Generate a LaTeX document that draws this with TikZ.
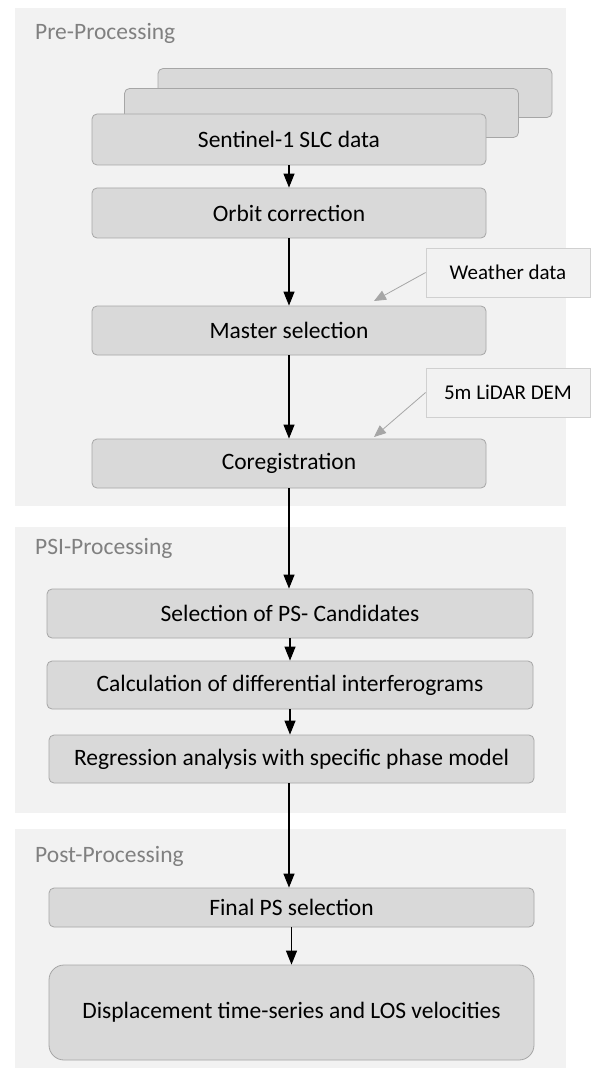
\documentclass[tikz,border=0pt]{standalone}
\usepackage{fontspec}
\setmainfont{Carlito}
\usetikzlibrary{positioning,arrows.meta,calc}
\definecolor{panelgray}{HTML}{F2F2F2}
\definecolor{boxgray}{HTML}{D9D9D9}
\definecolor{boxline}{HTML}{A6A6A6}
\definecolor{noteline}{HTML}{D0D0D0}
\definecolor{titlegray}{HTML}{808080}
\definecolor{arrowgray}{HTML}{A6A6A6}

\begin{document}
\begin{tikzpicture}[
  x=1pt, y=-1pt,
  every node/.style={font=\fontsize{23.5}{27}\selectfont},
  panel/.style={fill=panelgray, inner sep=0pt},
  title/.style={anchor=west, text=titlegray, inner sep=0pt},
  block/.style={draw=boxline, fill=boxgray, rounded corners=5pt, line width=0.8pt, inner sep=0pt, minimum width=394, minimum height=49},
  wblock/.style={block, minimum width=486},
  note/.style={draw=noteline, fill=panelgray, line width=0.8pt, inner sep=0pt, minimum width=164, minimum height=49, font=\fontsize{21}{25}\selectfont},
  flow/.style={-{Triangle[length=14pt,width=11pt]}, line width=1.2pt},
  hint/.style={-{Triangle[length=12pt,width=10pt]}, draw=arrowgray, line width=0.8pt}
]
\useasboundingbox (0,0) rectangle (590,1075);
% Stage panels
\node[panel, minimum width=551, minimum height=498] (pre) at (290.5,257) {};
\node[panel, minimum width=551, minimum height=286] (psi) at (290.5,670) {};
\node[panel, minimum width=551, minimum height=239] (post) at (290.5,948.5) {};
\node[title] (pretitle) at (35,33) {Pre-Processing};
\node[title] (psititle) at (35,548) {PSI-Processing};
\node[title] (posttitle) at (35,856) {Post-Processing};
% Pre-processing
\node[block] (stack2) at (355,93) {};
\node[block] (stack1) at (321.5,113) {};
\node[block, minimum height=51] (slc) at (289,139.5) {Sentinel-1 SLC data};
\node[block, minimum height=50] (orbit) at (289,213) {Orbit correction};
\node[block] (master) at (289,330.5) {Master selection};
\node[block] (coreg) at (289,463.5) {Coregistration};
\node[note] (weather) at (508,272.5) {Weather data};
\node[note] (dem) at (508,392.5) {5m LiDAR DEM};
\coordinate (wtip) at (374,301);
\coordinate (dtip) at (374,437);
\draw[flow] (slc) -- (orbit);
\draw[flow] (orbit) -- (master);
\draw[flow] (master) -- (coreg);
\draw[hint] (weather.west) -- (wtip);
\draw[hint] (dem.west) -- (dtip);
% PSI-processing
\node[wblock] (cand) at (290,613.5) {Selection of PS- Candidates};
\node[wblock, minimum height=48] (ifg) at (290,685) {Calculation of differential interferograms};
\node[wblock, minimum width=485, minimum height=48] (regr) at (291.5,759) {Regression analysis with specific phase model};
\draw[flow] (coreg) -- (coreg.south |- cand.north);
\draw[flow] (cand) -- (ifg);
\draw[flow] (ifg.south) -- (ifg.south |- regr.north);
% Post-processing
\node[wblock, minimum width=485, minimum height=39] (final) at (291.5,907.5) {Final PS selection};
\node[wblock, minimum width=485, minimum height=95, rounded corners=15pt] (disp) at (291.5,1012.5) {Displacement time-series and LOS velocities};
\draw[flow] (regr.south -| coreg.south) -- (coreg.south |- final.north);
\draw[flow] (final) -- (disp);
\end{tikzpicture}
\end{document}
